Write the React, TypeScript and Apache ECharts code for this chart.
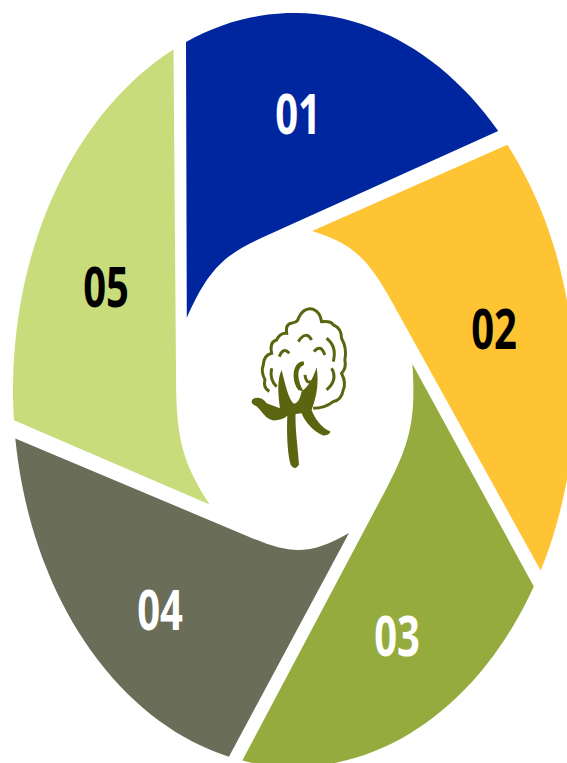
import React, { useEffect, useRef } from "react";
import * as echarts from "echarts";

const categories = ["01", "02", "03", "04", "05"];
const shares = [20, 20, 20, 20, 20];
const colors = ["#00269F", "#FFC433", "#95AB3E", "#6A6E58", "#C8DC7C"];
const labelColors = ["#FFFFFF", "#000000", "#FFFFFF", "#FFFFFF", "#000000"];

// Layout of the swirl (normalised ellipse space, angles in degrees clockwise from 12 o'clock)
const W = 567, H = 763;
const CX = 294, CY = 390, RX = 281, RY = 377;
const START = -22.6;
const GAP = 2.8;
const INNER = { endR: 0.42, endA: 7, lead: 0.15, ctrlR: 0.44, ctrlA: -21.7, tipR: 0.427, tipA: -40.7 };
const LABEL_POS = [[298, 112], [494, 327], [397, 634], [160, 608], [106, 285]];

const CLOUD = "M118,305 Q98,292 105,270 Q92,245 100,225 Q102,195 125,190 Q118,155 140,150 Q150,128 170,130 Q165,100 190,98 Q205,95 205,85 Q222,50 250,58 Q270,65 275,95 Q305,92 310,105 Q335,115 335,145 Q352,175 345,210 Q350,235 335,250 Q350,280 340,300 Q335,330 310,335 Q285,355 250,355";
const ARCS = "M205,155 Q228,120 245,150 M148,200 Q160,170 178,190 M252,185 Q272,160 285,195 M290,145 Q322,170 310,215 M125,235 Q118,270 140,290 M305,235 Q325,270 290,300 M225,255 Q228,282 245,275";
const SPIRAL = "M222,215 C190,210 180,270 205,300 L222,305 C205,280 195,235 222,225 Z";
const PLANT = "M155,240 C140,270 145,320 150,355 L110,340 C100,325 85,318 68,328 Q60,338 72,345 C90,350 100,385 130,392 C150,392 165,385 172,378 C170,430 172,490 182,525 Q195,545 207,525 C205,480 195,420 197,372 L215,370 C225,395 250,425 280,437 Q298,437 302,425 C275,415 255,385 245,360 C260,320 268,280 260,232 C250,265 235,290 215,305 C210,330 200,345 190,340 C175,325 165,280 155,240 Z";

echarts.graphic.registerShape("cloudLine", echarts.graphic.extendPath(CLOUD + " " + ARCS, {}));
echarts.graphic.registerShape("plantFill", echarts.graphic.extendPath(PLANT + " " + SPIRAL, {}));

// unit-circle position, before the ellipse stretch
const unit = (r: number, deg: number) => {
  const a = (deg * Math.PI) / 180;
  return [r * Math.sin(a), -r * Math.cos(a)];
};
const xy = (p: number[]) => `${(CX + RX * p[0]).toFixed(1)},${(CY + RY * p[1]).toFixed(1)}`;

const petalPath = (startShare: number, share: number, total: number) => {
  const base = START + (startShare / total) * 360;
  const span = (share / total) * 360 - GAP;
  let d = `M${xy(unit(1, base))}`;
  const steps = 36;
  for (let i = 1; i <= steps; i++) d += ` L${xy(unit(1, base + (span * i) / steps))}`;
  const outerEnd = unit(1, base + span);
  const p1 = unit(INNER.endR, base + INNER.endA);
  const dx = p1[0] - outerEnd[0], dy = p1[1] - outerEnd[1];
  const len = Math.hypot(dx, dy);
  const c1 = [p1[0] + (dx / len) * INNER.lead, p1[1] + (dy / len) * INNER.lead];
  const c2 = unit(INNER.ctrlR, base + INNER.ctrlA);
  const tip = unit(INNER.tipR, base + INNER.tipA);
  d += ` L${xy(p1)} C${xy(c1)} ${xy(c2)} ${xy(tip)} Z`;
  return d;
};

export default function App() {
  const ref = useRef<HTMLDivElement>(null);
  useEffect(() => {
    document.body.style.margin = "0";
    const chart = echarts.init(ref.current!, null, { renderer: "svg" });
    const total = shares.reduce((a, b) => a + b, 0);
    chart.setOption({
      animation: false,
      backgroundColor: "#FFFFFF",
      series: [
        {
          type: "custom",
          coordinateSystem: "none",
          silent: true,
          clip: false,
          data: shares.map((v, i) => ({ name: categories[i], value: v })),
          renderItem: (params: any, api: any) => {
            const i = params.dataIndex;
            const before = shares.slice(0, i).reduce((a, b) => a + b, 0);
            return {
              type: "group",
              children: [
                {
                  type: "path",
                  shape: { pathData: petalPath(before, api.value(0), total) },
                  style: { fill: colors[i] },
                },
                {
                  type: "text",
                  x: LABEL_POS[i][0],
                  y: LABEL_POS[i][1],
                  scaleY: 1.4,
                  z2: 10,
                  style: {
                    text: categories[i],
                    x: 0,
                    y: 0,
                    fill: labelColors[i],
                    font: 'bold 40px "Open Sans", sans-serif',
                    textAlign: "center",
                    textVerticalAlign: "middle",
                  },
                },
              ],
            };
          },
        },
      ],
      graphic: [
        {
          type: "plantFill",
          x: 230,
          y: 290,
          scaleX: 1 / 3,
          scaleY: 1 / 3,
          z: 20,
          style: { fill: "#5B6510" },
        },
        {
          type: "cloudLine",
          x: 230,
          y: 290,
          scaleX: 1 / 3,
          scaleY: 1 / 3,
          z: 19,
          style: { fill: "none", stroke: "#5B6510", lineWidth: 9 },
        },
      ],
    });
    return () => chart.dispose();
  }, []);
  return <div ref={ref} style={{ width: W, height: H, position: "absolute", left: 0, top: 0 }} />;
}
